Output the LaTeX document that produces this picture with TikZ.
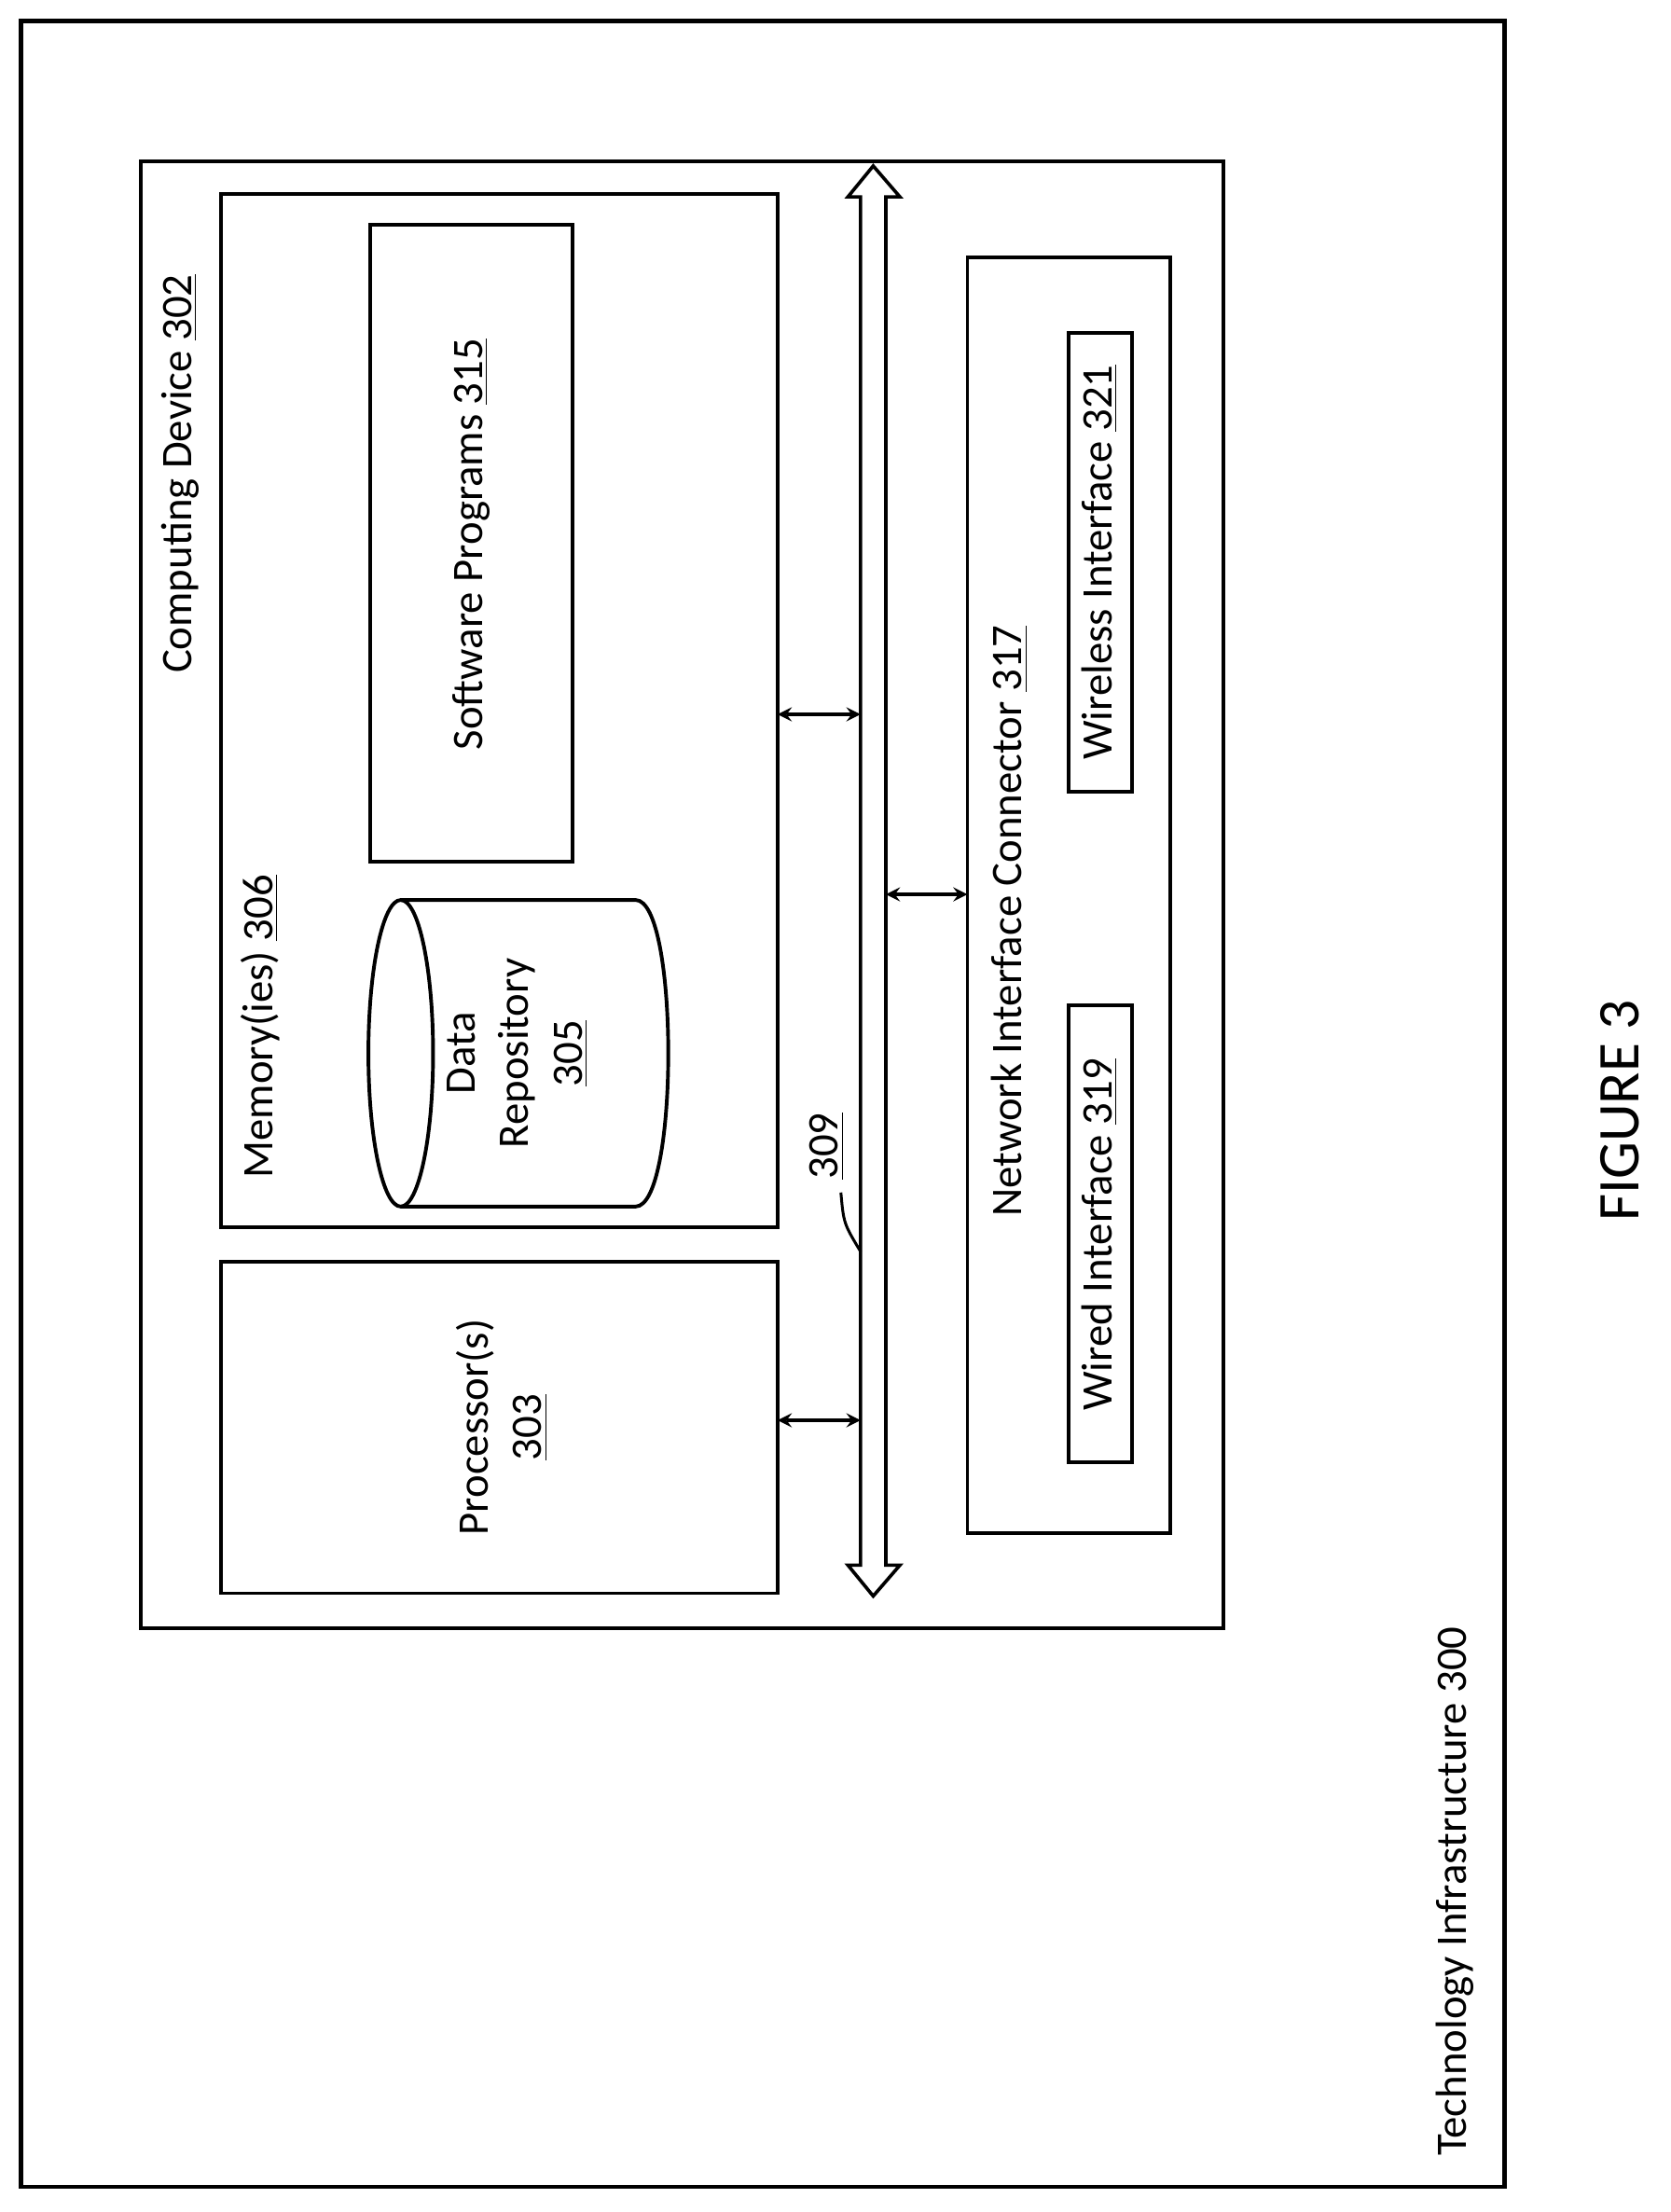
\documentclass[tikz,border=0pt]{standalone}
\usepackage{fontspec}
\setmainfont{Carlito}
\begin{document}
\begin{tikzpicture}[x=0.5pt,y=-0.5pt,
  box/.style={draw,line width=1.3pt},
  lbl/.style={rotate=90,font=\fontsize{15.5}{19}\selectfont,align=center},
  dbl/.style={<->,>=stealth,line width=1.2pt}]
\useasboundingbox (0,0) rectangle (1188,1573);
\draw[line width=1.5pt] (15,15) rectangle (1070,1555);
\draw[box] (100,115) rectangle (870,1158);
\draw[box] (157,138) rectangle (553,873);
\draw[box] (157,897) rectangle (553,1133);
\draw[box] (263,160) rectangle (407,613);
\draw[box] (688,183) rectangle (832,1090);
\draw[box] (760,715) rectangle (805,1040);
\draw[box] (760,237) rectangle (805,563);
% cylinder
\draw[line width=1.3pt] (285,749) ellipse [x radius=23, y radius=109];
\draw[line width=1.3pt] (285,640) -- (452,640) .. controls (483,640) and (483,858) .. (452,858) -- (285,858);
% bus
\draw[line width=1.2pt] (621,118) -- (640,140) -- (630,140) -- (630,1113) -- (640,1113) -- (621,1135) -- (603,1113) -- (612,1113) -- (612,140) -- (603,140) -- cycle;
\coordinate (m1) at (553,508); \coordinate (b1) at (612,508);
\coordinate (p1) at (553,1010); \coordinate (b2) at (612,1010);
\coordinate (b3) at (630,636); \coordinate (n1) at (688,636);
\draw[dbl] (m1) -- (b1);
\draw[dbl] (p1) -- (b2);
\draw[dbl] (b3) -- (n1);
\coordinate (l309) at (598,848); \coordinate (busp) at (612,890);
\draw[line width=1pt] (l309) .. controls (600,870) .. (busp);
\node[lbl] (t309) at (588,815) {\underline{309}};
\node[lbl] (tcd) at (128,337) {Computing Device \underline{302}};
\node[lbl] (tmem) at (185,730) {Memory(ies) \underline{306}};
\node[lbl] (tsw) at (335,387) {Software Programs \underline{315}};
\node[lbl] (tdr) at (368,749) {Data\\Repository\\\underline{305}};
\node[lbl] (tpr) at (357,1015) {Processor(s)\\\underline{303}};
\node[lbl] (tnic) at (718,655) {Network Interface Connector \underline{317}};
\node[lbl] (twd) at (782,878) {Wired Interface \underline{319}};
\node[lbl] (twl) at (782,400) {Wireless Interface \underline{321}};
\node[lbl] (tti) at (1035,1345) {Technology Infrastructure 300};
\node[lbl,font=\fontsize{21}{25}\selectfont] (fig) at (1152,790) {FIGURE 3};
\end{tikzpicture}
\end{document}
